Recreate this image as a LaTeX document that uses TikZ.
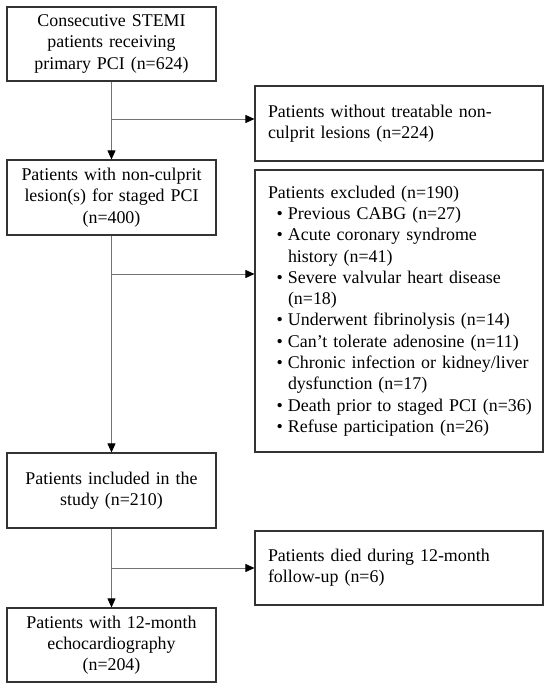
\documentclass[tikz,border=0pt]{standalone}
\usepackage{fontspec}
\setmainfont{Liberation Serif}
\usetikzlibrary{arrows.meta}
\newcommand\oneline[1]{\mbox{#1}}
\newcommand\bulletitem[1]{\mbox{\hspace*{8.5pt}\makebox[11.5pt][l]{\textbullet}#1}}
\newcommand\contline[1]{\mbox{\hspace*{20pt}#1}}
\begin{document}
\begin{tikzpicture}[x=1pt,y=-1pt,
  box/.style={draw=black!80, line width=1.1pt, inner sep=0pt, font=\fontsize{17.9}{21.3}\selectfont},
  lbox/.style={box, minimum width=209pt, text width=206pt, align=center},
  rbox/.style={box, text width=262pt, inner xsep=13pt, align=left},
  conn/.style={draw=black!55, line width=0.8pt},
  arr/.style={conn, -{Triangle[length=9pt,width=8pt,color=black]}}]
\useasboundingbox (0,0) rectangle (550,690);
\fill[white] (0,0) rectangle (550,690);
% left column
\node[lbox, minimum height=74pt] (a) at (111.5,44) {Consecutive STEMI\\patients receiving\\primary PCI (n=624)};
\node[lbox, minimum height=75pt] (b) at (111.5,197.5) {Patients with non-culprit\\lesion(s) for staged PCI\\(n=400)};
\node[lbox, minimum height=75pt] (c) at (111.5,490.5) {Patients included in the\\study (n=210)};
\node[lbox, minimum height=74pt] (d) at (111.5,645) {Patients with 12-month\\echocardiography\\(n=204)};
% right column
\node[rbox, minimum height=75pt] (r1) at (399,123.5) {\oneline{Patients without treatable non-}\\\oneline{culprit lesions (n=224)}};
\node[rbox, minimum height=282pt] (r2) at (399,311) {\oneline{Patients excluded (n=190)}\\
\bulletitem{Previous CABG (n=27)}\\
\bulletitem{Acute coronary syndrome}\\
\contline{history (n=41)}\\
\bulletitem{Severe valvular heart disease}\\
\contline{(n=18)}\\
\bulletitem{Underwent fibrinolysis (n=14)}\\
\bulletitem{Can’t tolerate adenosine (n=11)}\\
\bulletitem{Chronic infection or kidney/liver}\\
\contline{dysfunction (n=17)}\\
\bulletitem{Death prior to staged PCI (n=36)}\\
\bulletitem{Refuse participation (n=26)}};
\node[rbox, minimum height=74pt] (r3) at (399,568) {\oneline{Patients died during 12-month}\\\oneline{follow-up (n=6)}};
% branch points
\coordinate (h1) at (111.5,119);
\coordinate (h2) at (111.5,274);
\coordinate (h3) at (111.5,568);
% connectors
\draw[arr] (a.south) -- (b.north);
\draw[arr] (b.south) -- (c.north);
\draw[arr] (c.south) -- (d.north);
\draw[arr] (h1) -- (h1 -| r1.west);
\draw[arr] (h2) -- (h2 -| r2.west);
\draw[arr] (h3) -- (h3 -| r3.west);
\end{tikzpicture}
\end{document}
